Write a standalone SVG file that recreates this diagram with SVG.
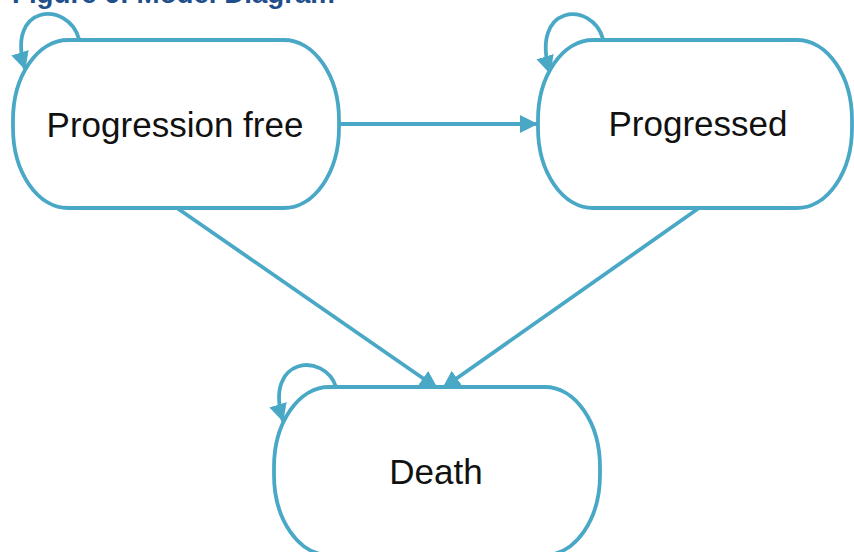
<svg xmlns="http://www.w3.org/2000/svg" width="854" height="552" viewBox="0 0 854 552">
<style>
.node{fill:#fff;stroke:#4aa8c7;stroke-width:3.8}
.lbl{font-family:"Liberation Sans",Arial,sans-serif;font-size:35px;fill:#111;text-anchor:middle}
.edge{fill:none;stroke:#4aa8c7;stroke-width:3.8}
.title{font-family:"Liberation Sans",Arial,sans-serif;font-weight:bold;font-size:27px;fill:#1f4e8c}
</style>
<defs>
<marker id="ah" markerUnits="userSpaceOnUse" markerWidth="20" markerHeight="20" refX="17" refY="9" orient="auto">
<path d="M0,0 L18,9 L0,18 z" fill="#4aa8c7"/>
</marker>
</defs>
<rect width="854" height="552" fill="#fff"/>
<text class="title" x="12" y="3" textLength="323" lengthAdjust="spacingAndGlyphs">Figure 6: Model Diagram</text>
<g id="connectors">
<path class="edge" d="M340 124 L537 124" marker-end="url(#ah)"/>
<path class="edge" d="M177 208 L437 388" marker-end="url(#ah)"/>
<path class="edge" d="M699 208 L443 388" marker-end="url(#ah)"/>
<path class="edge" d="M79 39 C68 0, 5 4, 25 69" marker-end="url(#ah)"/>
<path class="edge" d="M603 39 C592 0, 529 4, 550 73" marker-end="url(#ah)"/>
<path class="edge" d="M336 387 C325 352, 263 356, 283 421" marker-end="url(#ah)"/>
</g>
<g id="node-progression-free">
<rect class="node" x="13" y="40" width="326" height="168" rx="55" ry="80"/>
<text class="lbl" x="175" y="137">Progression free</text>
</g>
<g id="node-progressed">
<rect class="node" x="538" y="40" width="314" height="168" rx="55" ry="80"/>
<text class="lbl" x="698" y="136">Progressed</text>
</g>
<g id="node-death">
<rect class="node" x="274" y="387" width="326" height="168" rx="55" ry="80"/>
<text class="lbl" x="436" y="484">Death</text>
</g>
</svg>
